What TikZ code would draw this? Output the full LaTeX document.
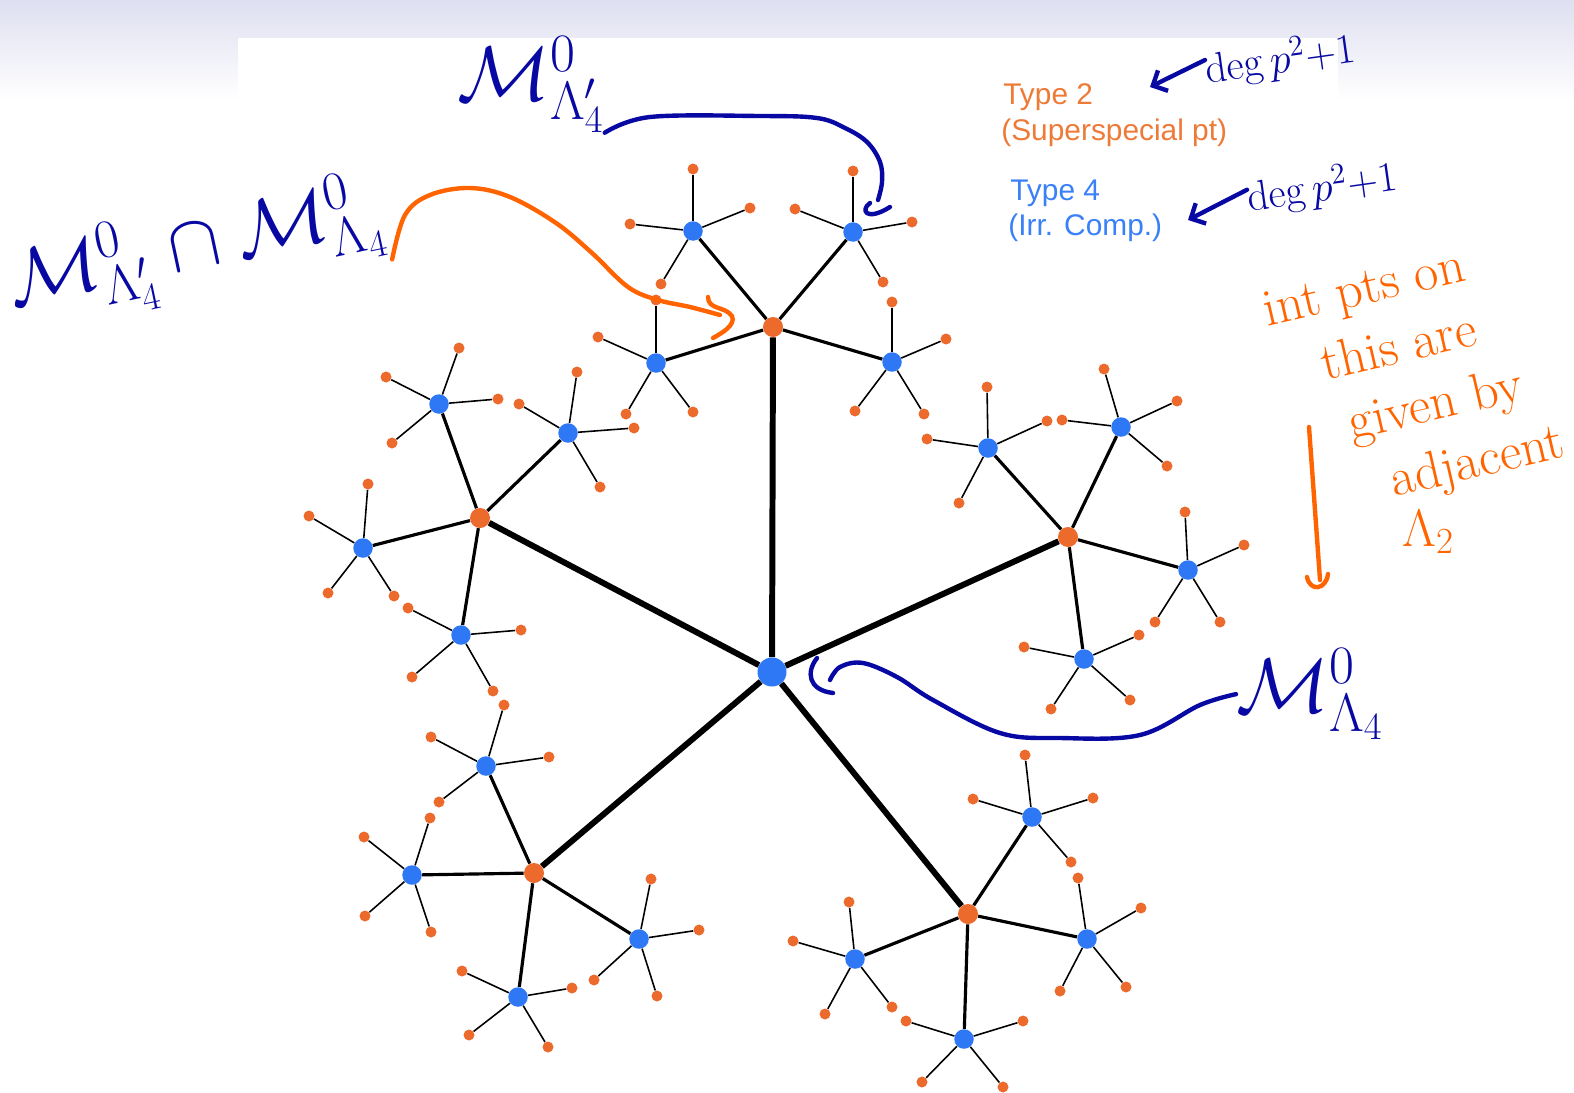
\RequirePackage{fix-cm}
\documentclass[tikz,border=0pt]{standalone}
\usepackage{amsmath}
\usepackage{fontspec}
\newfontfamily\slidefont{Liberation Sans}
\usepackage{xcolor}
\usepackage{tikz}
\usetikzlibrary{arrows.meta, positioning, calc}
\definecolor{ssorange}{RGB}{236,106,44}
\definecolor{compblue}{RGB}{46,120,246}
\definecolor{legorange}{RGB}{238,122,56}
\definecolor{legblue}{RGB}{58,128,246}
\definecolor{inknavy}{RGB}{8,8,162}
\definecolor{inkorange}{RGB}{255,100,0}
\definecolor{slidetop}{RGB}{222,223,240}

\begin{document}
\begin{tikzpicture}[x=0.02cm, y=-0.02cm,
    hub/.style={circle, fill=compblue, inner sep=0pt, minimum size=0.58cm},
    sspt/.style={circle, fill=ssorange, inner sep=0pt, minimum size=0.4cm},
    comp/.style={circle, fill=compblue, inner sep=0pt, minimum size=0.39cm},
    leaf/.style={circle, fill=ssorange, inner sep=0pt, minimum size=0.22cm},
    trunk/.style={line width=3.4pt},
    branch/.style={line width=1.8pt},
    twig/.style={line width=0.9pt},
    legend/.style={font=\slidefont\fontsize{17}{20}\selectfont, inner sep=0pt, anchor=base west},
    ink/.style={draw=inknavy, line width=2.5pt, line cap=round, line join=round},
    oink/.style={draw=inkorange, line width=2.5pt, line cap=round, line join=round},
    mlabel/.style={text=inknavy, font=\fontsize{44}{44}\selectfont, inner sep=0pt},
    note/.style={text=inkorange, font=\fontsize{30}{30}\selectfont, inner sep=0pt, rotate=13},
    degnote/.style={text=inknavy, font=\fontsize{24}{24}\selectfont, inner sep=0pt, rotate=8}
]
\useasboundingbox (0,0) rectangle (1574,1092);
% slide background
\shade[top color=slidetop, bottom color=white] (0,0) rectangle (1574,100);
\fill[white] (238,38) rectangle (1338,100);

% the tree
\node[hub] (c) at (772,672) {};
\foreach \n/\x/\y in {o1/773/327, o2/480/518, o3/1068/537, o4/534/873, o5/968/914} {
    \node[sspt] (\n) at (\x,\y) {};
    \draw[trunk] (c) -- (\n);
}
\foreach \bn/\pn/\x/\y in {
    b11/o1/693/231, b12/o1/853/232, b13/o1/656/363, b14/o1/892/362,
    b21/o2/439/404, b22/o2/568/433, b23/o2/363/548, b24/o2/461/635,
    b31/o3/988/448, b32/o3/1121/427, b33/o3/1188/570, b34/o3/1084/659,
    b41/o4/486/766, b42/o4/412/875, b43/o4/518/997, b44/o4/639/939,
    b51/o5/1032/817, b52/o5/1087/939, b53/o5/855/959, b54/o5/964/1039
} {
    \node[comp] (\bn) at (\x,\y) {};
    \draw[branch] (\pn) -- (\bn);
}
\foreach \bn/\x/\y [count=\k] in {
    b11/693/169, b11/750/208, b11/630/224, b11/661/284,
    b12/853/171, b12/795/209, b12/912/222, b12/883/282,
    b13/656/300, b13/598/337, b13/626/414, b13/693/412,
    b14/892/302, b14/946/339, b14/855/411, b14/924/414,
    b21/459/348, b21/386/377, b21/498/399, b21/392/443,
    b22/577/372, b22/519/404, b22/634/428, b22/600/487,
    b23/368/484, b23/309/516, b23/328/593, b23/394/596,
    b24/408/608, b24/521/630, b24/412/677, b24/493/691,
    b31/987/387, b31/927/439, b31/1047/421, b31/959/503,
    b32/1104/369, b32/1177/401, b32/1062/420, b32/1167/466,
    b33/1185/512, b33/1244/545, b33/1155/622, b33/1220/622,
    b34/1024/647, b34/1139/635, b34/1051/709, b34/1130/700,
    b41/504/705, b41/431/737, b41/549/757, b41/439/802,
    b42/430/818, b42/364/837, b42/365/916, b42/431/932,
    b43/462/971, b43/572/988, b43/469/1035, b43/548/1047,
    b44/651/879, b44/699/930, b44/594/980, b44/657/996,
    b51/1025/755, b51/973/799, b51/1093/798, b51/1071/862,
    b52/1078/878, b52/1141/908, b52/1060/991, b52/1126/987,
    b53/849/902, b53/793/941, b53/825/1014, b53/892/1007,
    b54/906/1021, b54/1023/1021, b54/922/1082, b54/1003/1087
} {
    \node[leaf] (l\k) at (\x,\y) {};
    \draw[twig] (\bn) -- (l\k);
}

% legend
\node[legend, text=legorange] (t2) at (1003,104) {Type 2};
\node[legend, text=legorange] (t2b) at (1001,140) {(Superspecial pt)};
\node[legend, text=legblue] (t4) at (1010,200) {Type 4};
\node[legend, text=legblue] (t4b) at (1008,235) {(Irr. Comp.)};

% navy notes
\node[degnote] (deg1) at (1280,60) {$\deg p^{2}{+}1$};
\node[degnote] (deg2) at (1322,188) {$\deg p^{2}{+}1$};
\coordinate (d1tip) at (1150,87);
\coordinate (d2tip) at (1188,220);
\draw[ink, -{Straight Barb[length=6.5pt, width=13pt]}] ([yshift=6pt]deg1.west) -- (d1tip);
\draw[ink, -{Straight Barb[length=6.5pt, width=13pt]}] ([yshift=5pt]deg2.west) -- (d2tip);

\node[mlabel, anchor=base west] (mui) at (457,100) {$\mathcal{M}^{0}_{\Lambda_4'}$};
\node[mlabel, rotate=12] (mcap) at (196,252) {$\mathcal{M}^{0}_{\Lambda_4'}\cap\mathcal{M}^{0}_{\Lambda_4}$};
\node[mlabel, anchor=base west] (mlu) at (1236,712) {$\mathcal{M}^{0}_{\Lambda_4}$};

\coordinate (h1) at (878,200);
\draw[ink] plot[smooth, tension=0.6] coordinates {(mui.south east) (650,117) (760,116) (817,118) (845,128) (867,142) (880,162) (882,182) (h1)};
\draw[ink] (870,203) .. controls (860,210) and (866,222) .. (890,207);

\coordinate (h3) at (830,680);
\draw[ink] plot[smooth, tension=0.6] coordinates {(mlu.west) (1200,705) (1140,735) (1060,738) (1000,733) (933,700) (897,677) (863,663) (840,667) (h3)};
\draw[ink] (817,658) .. controls (806,672) and (808,690) .. (833,693);

% orange notes
\coordinate (h2) at (720,315);
\draw[oink] plot[smooth, tension=0.6] coordinates {(mcap.south east) (405,215) (430,195) (470,188) (510,197) (556,223) (592,253) (628,287) (658,300) (690,307) (h2)};
\draw[oink] (708,297) .. controls (708,310) and (725,306) .. (732,316) .. controls (736,325) and (722,333) .. (713,338);

\node[note] (w1) at (1365,292) {int pts on};
\node[note] (w2) at (1398,345) {this are};
\node[note] (w3) at (1436,407) {given by};
\node[note] (w4) at (1478,464) {adjacent};
\node[note, rotate=-13] (w5) at (1428,532) {$\Lambda_2$};
\coordinate (oa) at (1309,427);
\coordinate (ob) at (1320,580);
\draw[oink] (oa) -- (ob);
\draw[oink] (1307,577) .. controls (1310,592) and (1326,590) .. (1328,574);
\end{tikzpicture}
\end{document}
